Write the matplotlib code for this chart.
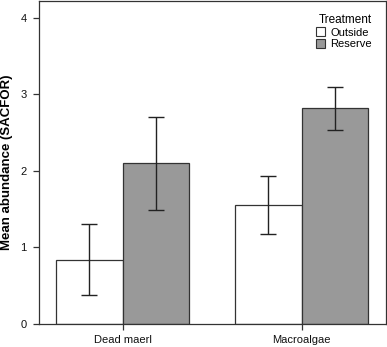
import matplotlib.pyplot as plt
import numpy as np
from matplotlib.patches import Patch

plt.rcParams['font.family'] = ['Liberation Sans', 'DejaVu Sans']

categories = ['Dead maerl', 'Macroalgae']
outside_mean = [0.84, 1.56]
outside_err = [0.46, 0.38]
reserve_mean = [2.10, 2.82]
reserve_err = [0.61, 0.28]

x = np.arange(len(categories))
w = 0.372

fig = plt.figure(figsize=(3.87, 3.47), dpi=100)
ax = fig.add_axes([39 / 387, 1 - 324 / 347, (385.5 - 39) / 387, 323 / 347])

ekw = dict(ecolor='#222222', elinewidth=1.0, capsize=5.8, capthick=1.0)
ax.bar(x - w / 2, outside_mean, w, yerr=outside_err, color='white',
       edgecolor='#333333', linewidth=0.9, error_kw=ekw)
ax.bar(x + w / 2, reserve_mean, w, yerr=reserve_err, color='#999999',
       edgecolor='#333333', linewidth=0.9, error_kw=ekw)

ax.set_xlim(-0.468, 1.468)
ax.set_ylim(0, 4.22)
ax.set_yticks([0, 1, 2, 3, 4])
ax.set_xticks(x)
ax.set_xticklabels(categories)
ax.tick_params(direction='out', length=4.5, width=0.9, color='#333333',
               labelsize=8, labelcolor='#111111')
ax.tick_params(axis='y', pad=4.5)
for s in ax.spines.values():
    s.set_color('#333333')
    s.set_linewidth(0.9)

ax.set_ylabel('Mean abundance (SACFOR)', fontsize=9.5, fontweight='bold', labelpad=5)

handles = [Patch(facecolor='white', edgecolor='#333333', linewidth=0.8, label='Outside'),
           Patch(facecolor='#999999', edgecolor='#333333', linewidth=0.8, label='Reserve')]
leg = ax.legend(handles=handles, title='Treatment', loc='upper right', frameon=False,
                fontsize=8, title_fontsize=8.5, handlelength=0.8, handleheight=0.8,
                handletextpad=0.5, labelspacing=0.15, borderaxespad=0.3,
                bbox_to_anchor=(1 - 6 / 346, 1 - 5 / 323))
leg._legend_box.align = 'right'

fig.savefig('out.png', dpi=100)
